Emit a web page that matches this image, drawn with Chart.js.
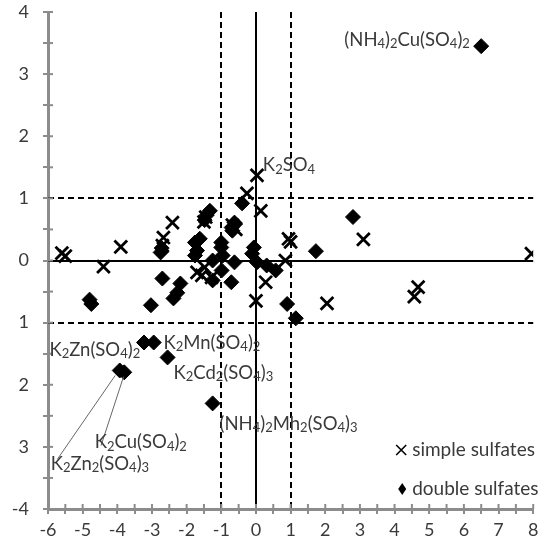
<!DOCTYPE html>
<html>
<head>
<meta charset="utf-8">
<script src="https://cdn.jsdelivr.net/npm/chart.js@4/dist/chart.umd.min.js"></script>
<style>
  html, body { margin: 0; padding: 0; background: #fff; }
</style>
</head>
<body>
<canvas id="myChart" width="545" height="546"></canvas>
<script>
/* sulfatos simples */
const simpleX = [-5.6, -5.5, -4.4, -3.9, -2.41, -2.67, -2.7, -1.45, -1.5, -1.48, -1.56, -1.28, -1.7, -0.68, -0.58, -0.26, 0.03, 0.14, 0.0, 0.28, 0.85, 0.94, 1.0, 2.05, 3.1, 4.57, 4.68, 7.95];
const simpleY = [0.12, 0.07, -0.1, 0.22, 0.61, 0.37, 0.24, 0.7, 0.62, -0.11, -0.24, -0.27, -0.19, 0.57, 0.5, 1.08, 1.37, 0.8, -0.65, -0.35, 0.0, 0.35, 0.3, -0.69, 0.34, -0.58, -0.43, 0.11];

/* sulfatos dobles */
const doubleX = [6.5, 2.8, 1.73, 0.9, 1.15, -4.8, -4.75, -2.7, -3.03, -2.38, -2.27, -2.18, -3.23, -2.95, -2.55, -3.93, -3.8, -1.25, -2.75, -2.72, -1.33, -1.42, -1.48, -0.62, -0.7, -0.68, -0.4, -1.62, -1.76, -1.0, -0.06, -1.7, -1.76, -1.0, -0.96, -1.25, -0.62, -0.11, 0.03, 0.31, 0.57, -0.99, -1.25, -0.71];
const doubleY = [3.45, 0.7, 0.15, -0.7, -0.93, -0.63, -0.7, -0.29, -0.72, -0.61, -0.52, -0.37, -1.32, -1.32, -1.56, -1.77, -1.8, -2.3, 0.13, 0.2, 0.8, 0.73, 0.65, 0.61, 0.53, 0.48, 0.92, 0.35, 0.29, 0.29, 0.21, 0.16, 0.08, 0.21, 0.08, 0.0, -0.03, 0.11, -0.03, -0.08, -0.16, -0.16, -0.32, -0.35];

/* etiquetas de compuestos ("_" = subindice) */
const labelTexts = ['(NH_4)_2Cu(SO_4)_2', 'K_2SO_4', 'K_2Zn(SO_4)_2', 'K_2Mn(SO_4)_2', 'K_2Cd_2(SO_4)_3', '(NH_4)_2Mh_2(SO_4)_3', 'K_2Cu(SO_4)_2', 'K_2Zn_2(SO_4)_3'];
const labelX = [2.55, 0.2, -5.96, -2.67, -2.38, -1.05, -4.65, -5.92];
const labelY = [3.55, 1.53, -1.44, -1.33, -1.81, -2.63, -2.93, -3.27];

/* lineas guia desde los puntos a sus etiquetas */
const leaderFrom = [[-4.06, -1.85], [-3.82, -1.87]];
const leaderTo = [[-5.73, -3.2], [-4.47, -2.98]];

const xTicks = [-6, -5, -4, -3, -2, -1, 0, 1, 2, 3, 4, 5, 6, 7, 8];
const yTicks = [4, 3, 2, 1, 0, -1, -2, -3, -4];
const yTickText = ['4', '3', '2', '1', '0', '1', '2', '3', '-4'];

const legendNames = ['simple sulfates', 'double sulfates'];

const FONT = 'Lato, "Open Sans", sans-serif';
const AXIS_GRAY = '#8c8c8c';
const TEXT = '#3a3a3a';

const toPoints = (xs, ys) => xs.map((x, i) => ({ x: x, y: ys[i] }));

/* texto con subindices */
const drawSubText = (ctx, str, x, y, size) => {
    const parts = str.split(/_(\d+)/);
    let cx = x;
    ctx.textAlign = 'left';
    ctx.textBaseline = 'middle';
    parts.forEach((p, i) => {
        if (!p) return;
        const sub = i % 2 === 1;
        ctx.font = (sub ? Math.round(size * 0.68) : size) + 'px ' + FONT;
        ctx.fillText(p, cx, sub ? y + size * 0.22 : y);
        cx += ctx.measureText(p).width;
    });
};

/* sin relleno extra por las etiquetas de los extremos */
const noPad = (s) => {
    s.paddingTop = 0; s.paddingBottom = 0; s.paddingLeft = 0; s.paddingRight = 0;
};

const decor = {
    id: 'decor',
    beforeDatasetsDraw(chart) {
        const { ctx, chartArea: a, scales: { x, y } } = chart;
        ctx.save();
        ctx.strokeStyle = '#000';
        ctx.lineWidth = 2;
        /* lineas de +-1 punteadas */
        ctx.setLineDash([6, 4]);
        [-1, 1].forEach(v => {
            const px = Math.round(x.getPixelForValue(v));
            ctx.beginPath(); ctx.moveTo(px, a.top); ctx.lineTo(px, a.bottom); ctx.stroke();
            const py = Math.round(y.getPixelForValue(v));
            ctx.beginPath(); ctx.moveTo(a.left, py); ctx.lineTo(a.right, py); ctx.stroke();
        });
        /* ejes en cero */
        ctx.setLineDash([]);
        const x0 = Math.round(x.getPixelForValue(0));
        const y0 = Math.round(y.getPixelForValue(0));
        ctx.beginPath(); ctx.moveTo(x0, a.top); ctx.lineTo(x0, a.bottom); ctx.stroke();
        ctx.beginPath(); ctx.moveTo(a.left, y0); ctx.lineTo(a.right, y0); ctx.stroke();

        /* parte interior de las marcas de los ejes */
        ctx.strokeStyle = AXIS_GRAY;
        ctx.lineWidth = 2;
        x.ticks.forEach(t => {
            const px = x.getPixelForValue(t.value);
            ctx.beginPath(); ctx.moveTo(px, a.bottom); ctx.lineTo(px, a.bottom - 5); ctx.stroke();
        });
        y.ticks.forEach(t => {
            const py = y.getPixelForValue(t.value);
            ctx.beginPath(); ctx.moveTo(a.left, py); ctx.lineTo(a.left + 5, py); ctx.stroke();
        });
        ctx.restore();
    },
    afterDatasetsDraw(chart) {
        const { ctx, chartArea: a, scales: { x, y } } = chart;
        ctx.save();
        /* lineas guia */
        ctx.strokeStyle = '#666';
        ctx.lineWidth = 1;
        leaderFrom.forEach((f, i) => {
            ctx.beginPath();
            ctx.moveTo(x.getPixelForValue(f[0]), y.getPixelForValue(f[1]));
            ctx.lineTo(x.getPixelForValue(leaderTo[i][0]), y.getPixelForValue(leaderTo[i][1]));
            ctx.stroke();
        });
        /* etiquetas */
        ctx.fillStyle = TEXT;
        labelTexts.forEach((t, i) => {
            drawSubText(ctx, t, x.getPixelForValue(labelX[i]), y.getPixelForValue(labelY[i]), 18.5);
        });

        /* leyenda */
        const lx = a.right - 132;
        const ly1 = a.bottom - 59;
        const ly2 = a.bottom - 20;
        ctx.strokeStyle = '#000';
        ctx.lineWidth = 1.6;
        ctx.beginPath();
        ctx.moveTo(lx - 5, ly1 - 5); ctx.lineTo(lx + 5, ly1 + 5);
        ctx.moveTo(lx + 5, ly1 - 5); ctx.lineTo(lx - 5, ly1 + 5);
        ctx.stroke();
        ctx.fillStyle = '#000';
        ctx.beginPath();
        ctx.moveTo(lx + 1, ly2 - 6); ctx.lineTo(lx + 5, ly2); ctx.lineTo(lx + 1, ly2 + 6); ctx.lineTo(lx - 3, ly2);
        ctx.closePath(); ctx.fill();
        ctx.fillStyle = TEXT;
        ctx.font = '19px ' + FONT;
        ctx.textAlign = 'left';
        ctx.textBaseline = 'middle';
        ctx.fillText(legendNames[0], lx + 11, ly1);
        ctx.fillText(legendNames[1], lx + 11, ly2);
        ctx.restore();
    }
};

const ctx = document.getElementById('myChart');

const config = {
    type: 'scatter',
    data: {
        datasets: [
            {
                label: legendNames[0],
                data: toPoints(simpleX, simpleY),
                pointStyle: 'crossRot',
                pointRadius: 9,
                borderColor: '#000',
                pointBorderWidth: 2.8,
                backgroundColor: '#000'
            },
            {
                label: legendNames[1],
                data: toPoints(doubleX, doubleY),
                pointStyle: 'rectRot',
                pointRadius: 7.5,
                borderColor: '#000',
                pointBorderWidth: 1,
                backgroundColor: '#000'
            }
        ]
    },
    options: {
        responsive: false,
        animation: false,
        devicePixelRatio: 1,
        layout: { padding: { top: 12, right: 4, left: 3, bottom: 0 } },
        plugins: {
            legend: { display: false },
            tooltip: { enabled: false }
        },
        scales: {
            x: {
                type: 'linear',
                min: -6,
                max: 8,
                afterFit: (s) => { s.height = 37; noPad(s); },
                ticks: {
                    stepSize: 0.5,
                    autoSkip: false,
                    maxRotation: 0,
                    padding: 5,
                    color: TEXT,
                    font: { family: FONT, size: 18 },
                    callback: (v) => xTicks.includes(v) ? String(v) : ''
                },
                grid: { drawOnChartArea: false, drawTicks: true, tickLength: 5, color: AXIS_GRAY, lineWidth: 2 },
                border: { color: AXIS_GRAY, width: 3 }
            },
            y: {
                type: 'linear',
                min: -4,
                max: 4,
                afterFit: (s) => { s.width = 45; noPad(s); },
                ticks: {
                    stepSize: 0.5,
                    autoSkip: false,
                    padding: 14,
                    color: TEXT,
                    font: { family: FONT, size: 18 },
                    callback: (v) => {
                        const i = yTicks.indexOf(v);
                        return i >= 0 ? yTickText[i] : '';
                    }
                },
                grid: { drawOnChartArea: false, drawTicks: true, tickLength: 5, color: AXIS_GRAY, lineWidth: 2 },
                border: { color: AXIS_GRAY, width: 3 }
            }
        }
    },
    plugins: [decor]
};

const chart = new Chart(ctx, config);
</script>
</body>
</html>
